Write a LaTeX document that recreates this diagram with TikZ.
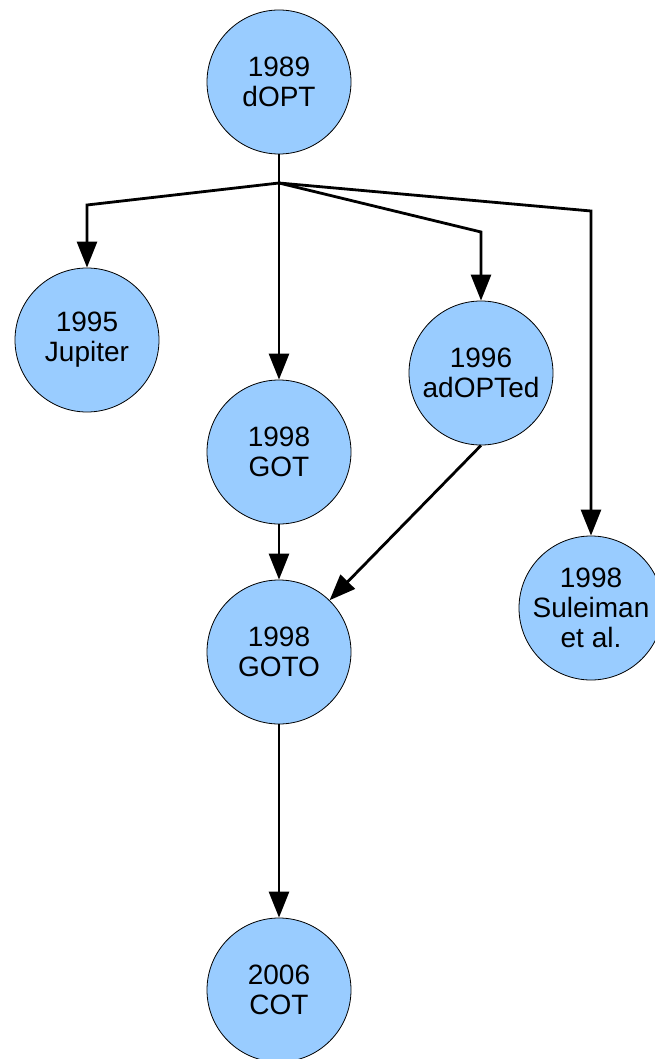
\documentclass[tikz,border=0pt]{standalone}
\usepackage{fontspec}
\setmainfont{Liberation Sans}
\usepackage{tikz}
\usetikzlibrary{arrows.meta}

\definecolor{circfill}{HTML}{99CCFF}

\tikzset{
  algo/.style = {draw, circle, fill = circfill, line width = 0.8pt, minimum size = 144pt,
                 inner sep = 0, align = center, font = \fontsize{28}{30}\selectfont},
  arr/.style = {line width = 2.8pt, -{Triangle[length = 26pt, width = 20pt]}},
  ln/.style = {line width = 2.8pt}
}

\begin{document}
\begin{tikzpicture}[x = 1pt, y = -1pt]
\useasboundingbox (0,0) rectangle (654,1059);
\node[algo] (dopt) at (279,82) {1989\\dOPT};
\node[algo] (jupiter) at (87,340) {1995\\Jupiter};
\node[algo] (got) at (279,452) {1998\\GOT};
\node[algo] (adopted) at (481,373) {1996\\adOPTed};
\node[algo] (suleiman) at (591,608) {1998\\Suleiman\\et al.};
\node[algo] (goto) at (279,652) {1998\\GOTO};
\node[algo] (cot) at (279,990) {2006\\COT};
\coordinate (split) at (279,183);
\coordinate (jup bend) at (87,205);
\coordinate (ado bend) at (481,232);
\coordinate (sul bend) at (591,211);
\draw [ln] (dopt) -- (split);
\draw [arr] (split) -- (jup bend) -- (jupiter);
\draw [arr] (split) -- (got);
\draw [arr] (split) -- (ado bend) -- (adopted);
\draw [arr] (split) -- (sul bend) -- (suleiman);
\draw [arr] (got) -- (goto);
\draw [arr] (adopted.south) -- (goto);
\draw [arr] (goto) -- (cot);
\end{tikzpicture}
\end{document}
